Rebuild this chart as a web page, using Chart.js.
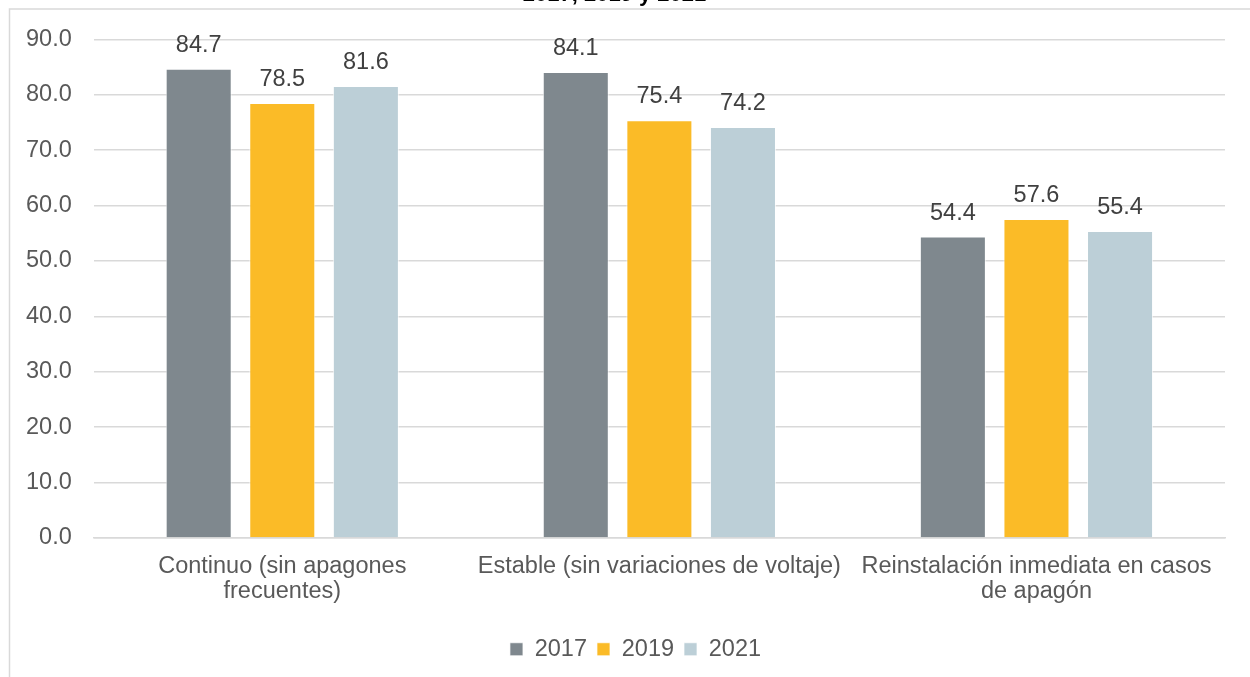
<!DOCTYPE html>
<html>
<head>
<meta charset="utf-8">
<script src="https://cdn.jsdelivr.net/npm/chart.js@4.4.0/dist/chart.umd.min.js"></script>
<style>
    html, body { margin: 0; padding: 0; background: #fff; overflow: hidden; }
    #wrap { position: absolute; left: 0; top: -18px; width: 1250px; height: 695px; }
</style>
</head>
<body>
<div id="wrap"><canvas id="chart1"></canvas></div>
<script>
const categorias = [
    ['Continuo (sin apagones', 'frecuentes)'],
    'Estable (sin variaciones de voltaje)',
    ['Reinstalación inmediata en casos', 'de apagón']
];
const anios = ['2017', '2019', '2021'];
const valores2017 = [84.7, 84.1, 54.4];
const valores2019 = [78.5, 75.4, 57.6];
const valores2021 = [81.6, 74.2, 55.4];
const colores = ['#7f888e', '#fbbb27', '#bccfd7'];

Chart.defaults.font.family = '"Liberation Sans", Arial, sans-serif';

// marco del grafico (borde gris claro arriba e izquierda)
const marco = {
    id: 'marco',
    beforeDraw(chart) {
        const ctx = chart.ctx;
        ctx.save();
        ctx.strokeStyle = '#d9d9d9';
        ctx.lineWidth = 1.5;
        ctx.beginPath();
        ctx.moveTo(1250, 27);
        ctx.lineTo(9.5, 27);
        ctx.lineTo(9.5, 700);
        ctx.stroke();
        ctx.restore();
    }
};

// la leyenda va un poco a la derecha del centro
const moverLeyenda = {
    id: 'moverLeyenda',
    afterLayout(chart) {
        if (chart.legend) {
            chart.legend.left += 21;
            chart.legend.right += 21;
        }
    }
};

// etiquetas de valor sobre cada barra
const etiquetas = {
    id: 'etiquetas',
    afterDatasetsDraw(chart) {
        const ctx = chart.ctx;
        ctx.save();
        ctx.font = '23.5px "Liberation Sans", Arial, sans-serif';
        ctx.fillStyle = '#404040';
        ctx.textAlign = 'center';
        ctx.textBaseline = 'alphabetic';
        chart.data.datasets.forEach((ds, i) => {
            const meta = chart.getDatasetMeta(i);
            meta.data.forEach((bar, j) => {
                ctx.fillText(ds.data[j].toFixed(1), bar.x, bar.y - 17);
            });
        });
        ctx.restore();
    }
};

const Chart1 = new Chart(document.getElementById('chart1'), {
    type: 'bar',
    data: {
        labels: categorias,
        datasets: [
            { label: anios[0], data: valores2017, backgroundColor: colores[0] },
            { label: anios[1], data: valores2019, backgroundColor: colores[1] },
            { label: anios[2], data: valores2021, backgroundColor: colores[2] }
        ].map(d => Object.assign(d, {
            borderColor: 'rgba(255,255,255,0.7)',
            borderWidth: 1,
            categoryPercentage: 0.665,
            barPercentage: 0.79
        }))
    },
    options: {
        responsive: true,
        maintainAspectRatio: false,
        animation: false,
        layout: {
            padding: { left: 4, right: 25, top: 0, bottom: 6 }
        },
        plugins: {
            title: {
                display: true,
                text: '2017, 2019 y 2021',
                color: '#000',
                font: { size: 22, weight: 'bold' },
                padding: { top: 0, bottom: 31 }
            },
            legend: {
                display: true,
                position: 'bottom',
                labels: {
                    boxWidth: 13,
                    boxHeight: 13,
                    padding: 10,
                    color: '#595959',
                    font: { size: 23.5 }
                }
            },
            tooltip: { enabled: false }
        },
        scales: {
            x: {
                grid: { display: false },
                border: { color: '#d9d9d9', width: 1.5 },
                ticks: {
                    color: '#595959',
                    font: { size: 23.5, lineHeight: 1.05 },
                    padding: 8.6,
                    maxRotation: 0,
                    autoSkip: false
                },
                afterFit(axis) {
                    axis.height += 15;
                }
            },
            y: {
                min: 0,
                max: 90,
                grid: { color: '#d9d9d9', lineWidth: 1.5, drawTicks: false },
                border: { display: false },
                ticks: {
                    stepSize: 10,
                    color: '#595959',
                    font: { size: 23.5 },
                    padding: 22,
                    callback: v => v.toFixed(1)
                }
            }
        }
    },
    plugins: [marco, moverLeyenda, etiquetas]
});
</script>
</body>
</html>
